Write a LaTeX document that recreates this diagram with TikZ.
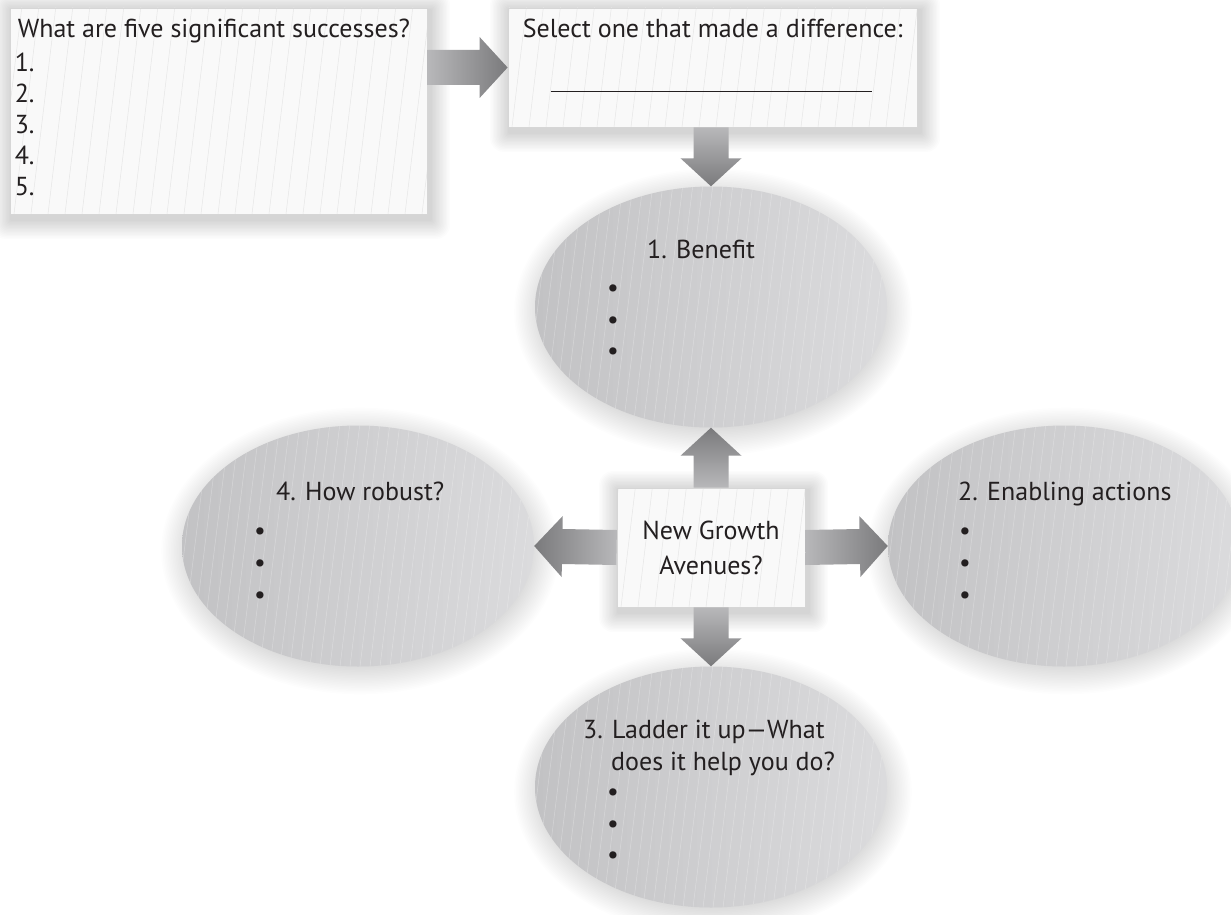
\documentclass[tikz,border=0pt]{standalone}
\usepackage{fontspec}
\setmainfont{PT Sans}
\usetikzlibrary{calc,shapes.geometric,backgrounds}
\definecolor{txt}{RGB}{35,31,32}
\definecolor{boxfill}{RGB}{249,249,249}
\definecolor{stripeB}{RGB}{230,230,230}
\definecolor{ellL}{RGB}{194,194,196}
\definecolor{ellR}{RGB}{219,219,221}
\definecolor{arrL}{RGB}{184,184,186}
\definecolor{arrD}{RGB}{122,122,124}
\newcommand{\fsz}[2]{\fontsize{#1}{#2}\selectfont}
\newcommand{\blockarrow}[3][]{%
  \coordinate (bA) at (#2); \coordinate (bT) at (#3);
  \coordinate (bH) at ($(#3)!28pt!(#2)$);
  \path[#1] ($(bA)!17.5pt!90:(bT)$) -- ($(bH)!17.5pt!-90:(bA)$) -- ($(bH)!30.5pt!-90:(bA)$)
    -- (bT) -- ($(bH)!30.5pt!90:(bA)$) -- ($(bH)!17.5pt!90:(bA)$) -- ($(bA)!17.5pt!-90:(bT)$) -- cycle;}
\newcommand{\ellshadow}[1]{%
  \foreach \k in {1,...,18}{\fill[black, opacity=0.009] ($(#1.center)+(2,5)$) ellipse [x radius={170+1.6*\k}, y radius={114.5+1.6*\k}];}}
\newcommand{\boxshadow}[1]{%
  \foreach \k in {1,...,14}{\fill[black, opacity=0.010, rounded corners={\k*1pt}] ($(#1.south west)+(-\k*1.4+2,\k*1.4+5)$) rectangle ($(#1.north east)+(\k*1.4+3,-\k*1.4+3)$);}}
\tikzset{
  lbl/.style={font=\fsz{26}{30}, text=txt, inner sep=0pt, anchor=base west},
  bul/.style={font=\fsz{26}{30}, text=txt, inner sep=0pt, anchor=center},
  boxstripes/.style={path picture={\foreach \i in {0,...,26}{\draw[stripeB, line width=0.5pt] ($(path picture bounding box.south west)+(\i*17-30,0)$) -- ++(30,-250);}}},
  ellstripes/.style={path picture={\foreach \i in {0,...,42}{\draw[white, opacity=0.3, line width=0.5pt] ($(path picture bounding box.south west)+(\i*10-32,0)$) -- ++(32,-260);}}},
  sbox/.style={rectangle, draw=black!16, line width=0.8pt, fill=boxfill, inner sep=0pt, boxstripes},
  ell/.style={ellipse, minimum width=352, minimum height=241, inner sep=0pt, left color=ellL, right color=ellR, ellstripes},
  arrR/.style={left color=arrL, right color=arrD},
  arrLft/.style={left color=arrD, right color=arrL},
  arrDn/.style={top color=arrL, bottom color=arrD},
  arrUp/.style={top color=arrD, bottom color=arrL},
}
\begin{document}
\begin{tikzpicture}[x=1pt,y=-1pt]
\useasboundingbox (0,0) rectangle (1231,915);
% ellipses
\node[ell] (e1) at (711,307) {};
\node[ell] (e4) at (358,546) {};
\node[ell] (e2) at (1064,546) {};
\node[ell] (e3) at (711,787) {};
% boxes
\node[sbox, minimum width=417, minimum height=206] (box1) at (218.5,111) {};
\node[sbox, minimum width=409, minimum height=119] (box2) at (712.5,67.5) {};
\node[sbox, minimum width=188, minimum height=119, align=center, font=\fsz{26}{35}, text=txt] (cbox) at (711,547.5) {New Growth\\Avenues?};
\begin{pgfonlayer}{background}
\fill[white] (0,0) rectangle (1231,915);
\ellshadow{e1}\ellshadow{e4}\ellshadow{e2}\ellshadow{e3}
\boxshadow{box1}\boxshadow{box2}\boxshadow{cbox}
\end{pgfonlayer}
% box texts
\node[lbl] (t1) at ($(box1.north west)+(8,30)$) {What are five significant successes?};
\node[lbl] (n1) at ($(box1.north west)+(5,64)$) {1.};
\node[lbl] (n2) at ($(box1.north west)+(5,95)$) {2.};
\node[lbl] (n3) at ($(box1.north west)+(5,126)$) {3.};
\node[lbl] (n4) at ($(box1.north west)+(5,157)$) {4.};
\node[lbl] (n5) at ($(box1.north west)+(5,188)$) {5.};
\node[lbl] (t2) at ($(box2.north west)+(15,30)$) {Select one that made a difference:};
\coordinate (la) at ($(box2.north west)+(43,84)$);
\coordinate (lb) at ($(box2.north west)+(364,84)$);
\draw[txt, line width=1.6pt] (la) -- (lb);
% ellipse texts
\node[lbl] (h1) at ($(e1.center)+(-64,-49)$) {1. Benefit};
\foreach \d [count=\k] in {-16,16,47} \node[bul] (b1\k) at ($(e1.center)+(-98,\d)$) {•};
\node[lbl] (h4) at ($(e4.center)+(-82,-46)$) {4. How robust?};
\foreach \d [count=\k] in {-12,20,52} \node[bul] (b4\k) at ($(e4.center)+(-98,\d)$) {•};
\node[lbl] (h2) at ($(e2.center)+(-106,-46)$) {2. Enabling actions};
\foreach \d [count=\k] in {-12,20,52} \node[bul] (b2\k) at ($(e2.center)+(-99,\d)$) {•};
\node[lbl] (h3a) at ($(e3.center)+(-128,-49)$) {3. Ladder it up—What};
\node[lbl] (h3b) at ($(e3.center)+(-100,-17)$) {does it help you do?};
\foreach \d [count=\k] in {8,40,71} \node[bul] (b3\k) at ($(e3.center)+(-98,\d)$) {•};
% arrows
\blockarrow[arrR]{box1.east |- box2.west}{box2.west}
\blockarrow[arrDn]{e1.north |- box2.south}{e1.north}
\blockarrow[arrUp]{cbox.north}{e1.south}
\blockarrow[arrLft]{cbox.west}{e4.east}
\blockarrow[arrR]{cbox.east}{e2.west}
\blockarrow[arrDn]{cbox.south}{e3.north}
\end{tikzpicture}
\end{document}
